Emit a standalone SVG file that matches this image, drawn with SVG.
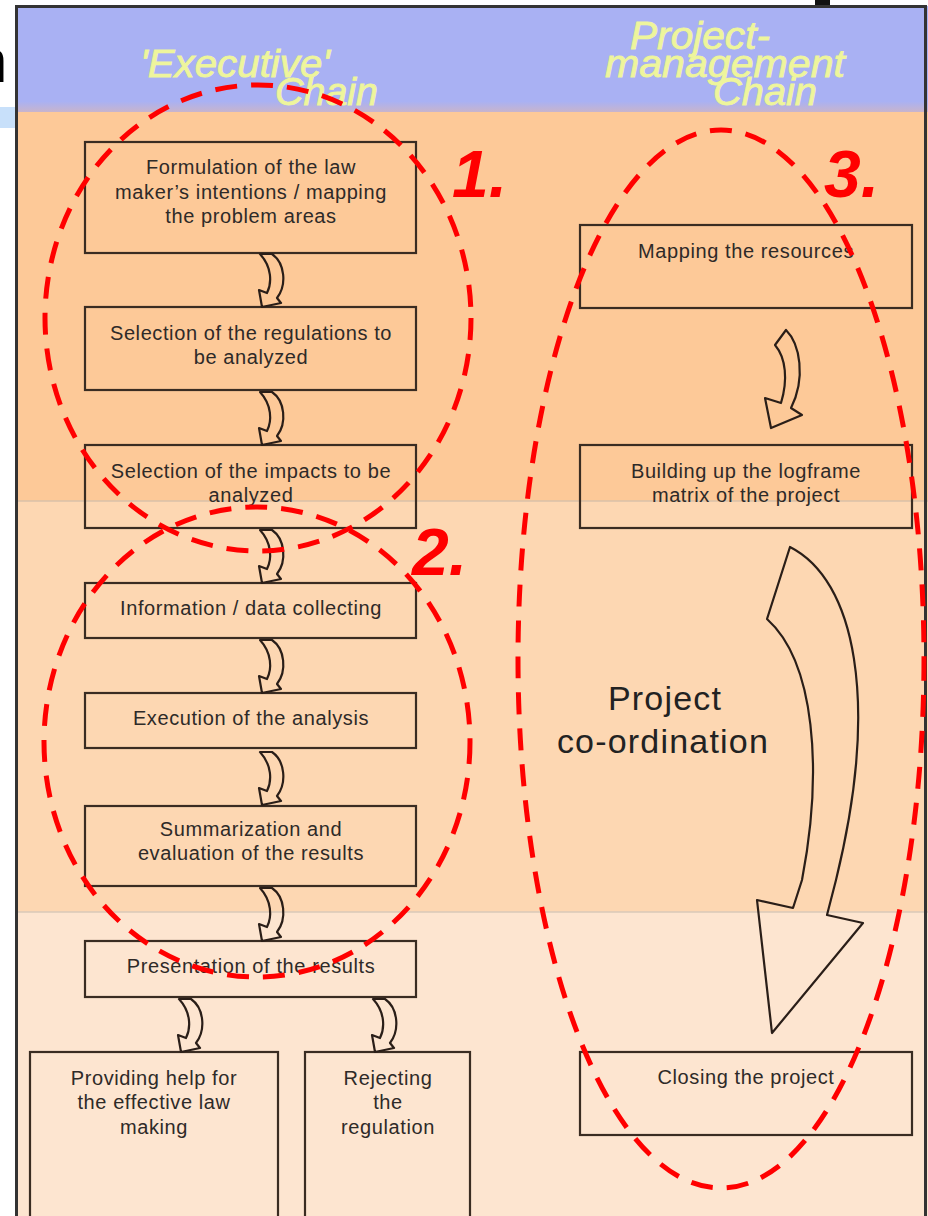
<svg xmlns="http://www.w3.org/2000/svg" xmlns:xlink="http://www.w3.org/1999/xlink" width="928" height="1216" viewBox="0 0 928 1216">
<style>
.box{fill:none;stroke:#3a2c22;stroke-width:2.2}
.t{font-family:"Liberation Sans",Arial,sans-serif;font-size:20px;letter-spacing:0.6px;fill:#2e2a28;text-anchor:middle}
.hd{font-family:"Liberation Sans",Arial,sans-serif;font-style:italic;font-size:38px;fill:#eef59c;stroke:#eef59c;stroke-width:0.8}
.num{font-family:"Liberation Sans",Arial,sans-serif;font-style:italic;font-weight:bold;font-size:66px;fill:#ff0000}
.ell{fill:none;stroke:#ff0000;stroke-width:5;stroke-dasharray:22 14}
.arr{fill:none;stroke:#2a1e18;stroke-width:2.2;stroke-linejoin:round}
.co{font-family:"Liberation Sans",Arial,sans-serif;font-size:34px;letter-spacing:1.2px;fill:#222;text-anchor:middle}
</style>
<defs>
<linearGradient id="hg" x1="0" y1="0" x2="0" y2="1">
<stop offset="0" stop-color="#a9b1f3"/><stop offset="0.9" stop-color="#a9b1f3"/><stop offset="1" stop-color="#c8b4cc"/>
</linearGradient>
<path id="sa" d="M1,1 L13,1 C26,10 28,32 18,45 L22,50 L3,54 L0,37 L8,40 C13,30 13,14 1,1 Z"/>
</defs>
<rect width="928" height="1216" fill="#ffffff"/>
<text x="-27" y="82" font-family="Liberation Sans,Arial,sans-serif" font-size="62" fill="#000">n</text>
<rect x="0" y="107" width="16" height="21" fill="#c8e0fa"/>
<rect x="815" y="0" width="15" height="6" fill="#111"/>
<g id="background">
<rect x="16" y="6" width="912" height="106" fill="url(#hg)"/>
<rect x="16" y="112" width="912" height="389" fill="#fdc998"/>
<rect x="16" y="501" width="912" height="411" fill="#fdd7b2"/>
<rect x="16" y="912" width="912" height="304" fill="#fde5d0"/>
<line x1="16" y1="501" x2="928" y2="501" stroke="#d8c0a8" stroke-width="1.5"/>
<line x1="16" y1="912" x2="928" y2="912" stroke="#d8c8b8" stroke-width="1.5"/>
<rect x="16.5" y="6.5" width="909" height="1230" fill="none" stroke="#333" stroke-width="3"/>
</g>
<g id="header-exec">
<text class="hd" x="140" y="77" textLength="190" lengthAdjust="spacingAndGlyphs">'Executive'</text>
<text class="hd" x="275" y="105" textLength="103" lengthAdjust="spacingAndGlyphs">Chain</text>
</g>
<g id="header-pm">
<text class="hd" x="630" y="49" textLength="140" lengthAdjust="spacingAndGlyphs">Project-</text>
<text class="hd" x="605" y="77" textLength="240" lengthAdjust="spacingAndGlyphs">management</text>
<text class="hd" x="713" y="105" textLength="104" lengthAdjust="spacingAndGlyphs">Chain</text>
</g>
<g id="n1"><rect class="box" x="85" y="142" width="331" height="111"/>
<text class="t" x="251" y="174">Formulation of the law</text>
<text class="t" x="251" y="199">maker’s intentions / mapping</text>
<text class="t" x="251" y="223">the problem areas</text></g>
<g id="n2"><rect class="box" x="85" y="307" width="331" height="83"/>
<text class="t" x="251" y="340">Selection of the regulations to</text>
<text class="t" x="251" y="364">be analyzed</text></g>
<g id="n3"><rect class="box" x="85" y="445" width="331" height="83"/>
<text class="t" x="251" y="478">Selection of the impacts to be</text>
<text class="t" x="251" y="502">analyzed</text></g>
<g id="n4"><rect class="box" x="85" y="583" width="331" height="55"/>
<text class="t" x="251" y="615">Information / data collecting</text></g>
<g id="n5"><rect class="box" x="85" y="693" width="331" height="55"/>
<text class="t" x="251" y="725">Execution of the analysis</text></g>
<g id="n6"><rect class="box" x="85" y="806" width="331" height="80"/>
<text class="t" x="251" y="836">Summarization and</text>
<text class="t" x="251" y="860">evaluation of the results</text></g>
<g id="n7"><rect class="box" x="85" y="941" width="331" height="56"/>
<text class="t" x="251" y="973">Presentation of the results</text></g>
<g id="n8"><rect class="box" x="30" y="1052" width="248" height="190"/>
<text class="t" x="154" y="1085">Providing help for</text>
<text class="t" x="154" y="1109">the effective law</text>
<text class="t" x="154" y="1134">making</text></g>
<g id="n9"><rect class="box" x="305" y="1052" width="165" height="190"/>
<text class="t" x="388" y="1085">Rejecting</text>
<text class="t" x="388" y="1109">the</text>
<text class="t" x="388" y="1134">regulation</text></g>
<g id="r1"><rect class="box" x="580" y="225" width="332" height="83"/>
<text class="t" x="746" y="258">Mapping the resources</text></g>
<g id="r2"><rect class="box" x="580" y="445" width="332" height="83"/>
<text class="t" x="746" y="478">Building up the logframe</text>
<text class="t" x="746" y="502">matrix of the project</text></g>
<g id="r3"><rect class="box" x="580" y="1052" width="332" height="83"/>
<text class="t" x="746" y="1084">Closing the project</text></g>
<g id="coord">
<text class="co" x="665" y="710">Project</text>
<text class="co" x="663" y="753">co-ordination</text>
</g>
<g id="connectors" class="arr">
<use xlink:href="#sa" x="259" y="253"/>
<use xlink:href="#sa" x="259" y="391"/>
<use xlink:href="#sa" x="259" y="529"/>
<use xlink:href="#sa" x="259" y="639"/>
<use xlink:href="#sa" x="259" y="751"/>
<use xlink:href="#sa" x="259" y="887"/>
<use xlink:href="#sa" x="178" y="998"/>
<use xlink:href="#sa" x="372" y="998"/>
<path d="M786,330 C800,344 806,378 791,408 L802,415 L771,428 L765,398 L781,403 C788,380 786,358 775,345 Z"/>
<path d="M790,547 C855,580 880,700 836,880 L827,915 L863,923 L772,1033 L757,900 L793,908 L802,880 C823,770 815,662 767,619 Z"/>
</g>
<g id="annotations">
<ellipse class="ell" cx="258" cy="318" rx="213" ry="233"/>
<ellipse class="ell" cx="257" cy="742" rx="213" ry="235"/>
<ellipse class="ell" cx="721" cy="659" rx="203" ry="529"/>
<text class="num" x="452" y="197">1.</text>
<text class="num" x="412" y="575">2.</text>
<text class="num" x="824" y="197">3.</text>
</g>
</svg>
